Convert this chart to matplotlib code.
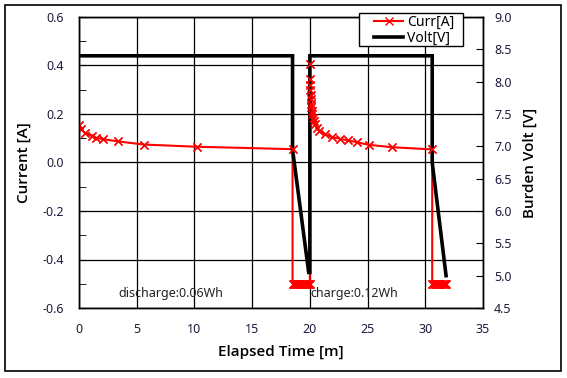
import matplotlib.pyplot as plt
from matplotlib.patches import Rectangle

plt.rcParams['font.family'] = ['Noto Sans', 'DejaVu Sans']

# current samples [min], [A]
t_curr = [0.0, 0.15, 0.5, 1.1, 1.5, 2.1, 3.4, 5.6, 10.2, 18.5,
          18.5, 18.6, 18.7, 18.8, 18.9, 19.0, 19.1, 19.2, 19.3, 19.4,
          19.5, 19.6, 19.7, 19.8, 19.9, 20.0,
          20.0, 20.02, 20.03, 20.04, 20.06, 20.08, 20.1, 20.13, 20.16, 20.2,
          20.26, 20.33, 20.45, 20.6, 20.8, 21.3, 21.9, 22.6, 23.3, 24.05,
          25.1, 27.1, 30.6,
          30.6, 30.7, 30.8, 30.9, 31.0, 31.1, 31.2, 31.3, 31.4, 31.5,
          31.6, 31.7, 31.8]
curr = [0.153, 0.139, 0.123, 0.109, 0.102, 0.096, 0.087, 0.074, 0.065, 0.055,
        -0.5, -0.5, -0.5, -0.5, -0.5, -0.5, -0.5, -0.5, -0.5, -0.5,
        -0.5, -0.5, -0.5, -0.5, -0.5, -0.5,
        0.405, 0.343, 0.32, 0.30, 0.28, 0.26, 0.24, 0.228, 0.212, 0.199,
        0.185, 0.171, 0.157, 0.144, 0.13, 0.116, 0.105, 0.098, 0.091, 0.084,
        0.073, 0.063, 0.054,
        -0.5, -0.5, -0.5, -0.5, -0.5, -0.5, -0.5, -0.5, -0.5, -0.5,
        -0.5, -0.5, -0.5]

# burden voltage [min], [V]
t_volt = [0.0, 18.5, 18.5, 19.9, 20.0, 20.0, 30.6, 30.6, 31.8]
volt = [8.4, 8.4, 6.95, 5.05, 5.05, 8.4, 8.4, 6.75, 5.0]

notes = ['discharge:0.06Wh', 'charge:0.12Wh']
note_x = [3.45, 20.05]
note_y = -0.54

txt = '#1c1c3c'
lab = dict(fontsize=11, fontweight='semibold', family=['Open Sans', 'DejaVu Sans'])

fig = plt.figure(figsize=(5.67, 3.78), dpi=100)
fig.patches.append(Rectangle((5 / 567, 7 / 378), 556 / 567, 366 / 378,
                             transform=fig.transFigure, fill=False,
                             edgecolor='black', lw=1.2))
ax1 = fig.add_axes([79 / 567, 1 - 308 / 378, 404 / 567, 291 / 378])
ax2 = ax1.twinx()

l1, = ax1.plot(t_curr, curr, color='red', lw=1.5, marker='x', markersize=6,
               mew=1, label='Curr[A]')
l2, = ax2.plot(t_volt, volt, color='black', lw=2.6, label='Volt[V]',
               solid_joinstyle='miter')
# markers drawn again above the voltage line
ax2.plot(t_curr, curr, color='red', ls='none', marker='x', markersize=6,
         mew=1, transform=ax1.transData)

ax1.set_xlim(0, 35)
ax1.set_ylim(-0.6, 0.6)
ax2.set_ylim(4.5, 9.0)
ax1.set_xticks(range(0, 36, 5))
ax1.set_yticks([-0.6, -0.4, -0.2, 0.0, 0.2, 0.4, 0.6])
ax1.set_yticklabels(['-0.6', '-0.4', '-0.2', '0.0', '0.2', '0.4', '0.6'])
ax1.set_yticks([-0.5, -0.3, -0.1, 0.1, 0.3, 0.5], minor=True)
ax2.set_yticks([4.5, 5.0, 5.5, 6.0, 6.5, 7.0, 7.5, 8.0, 8.5, 9.0])
ax2.set_yticklabels(['4.5', '5.0', '5.5', '6.0', '6.5', '7.0', '7.5', '8.0',
                     '8.5', '9.0'])

ax1.grid(True, which='major', color='black', lw=0.9)
ax1.tick_params(axis='y', which='both', direction='in', length=5,
                pad=11, labelsize=9, labelcolor=txt)
ax1.tick_params(axis='x', direction='in', length=0, pad=11, labelsize=9,
                labelcolor=txt)
ax2.tick_params(axis='y', direction='in', length=5, pad=8, labelsize=9,
                labelcolor=txt)
for ax in (ax1, ax2):
    for s in ax.spines.values():
        s.set_linewidth(1.0)

ax1.set_xlabel('Elapsed Time [m]', labelpad=6, **lab)
ax1.set_ylabel('Current [A]', labelpad=8, **lab)
ax2.set_ylabel('Burden Volt [V]', labelpad=8, **lab)

for s, x in zip(notes, note_x):
    ax1.text(x, note_y, s, fontsize=9, va='center', ha='left', color='#222222')

# legend box drawn by hand, entries placed inside it
fig.patches.append(Rectangle((359 / 567, 1 - 46 / 378), 104 / 567, 33 / 378,
                             transform=fig.transFigure, facecolor='white',
                             edgecolor='black', lw=1.0, zorder=5))
leg = ax1.legend([l1, l2], ['Curr[A]', 'Volt[V]'], loc='upper left',
                 bbox_to_anchor=(372 / 567, 1 - 13 / 378),
                 bbox_transform=fig.transFigure, borderaxespad=0,
                 frameon=False, fontsize=10, handlelength=2.1,
                 labelspacing=0.05, borderpad=0.15, handletextpad=0.3)
leg.set_zorder(6)
leg.remove()
fig.legends.append(leg)

fig.savefig('out.png', dpi=100)
